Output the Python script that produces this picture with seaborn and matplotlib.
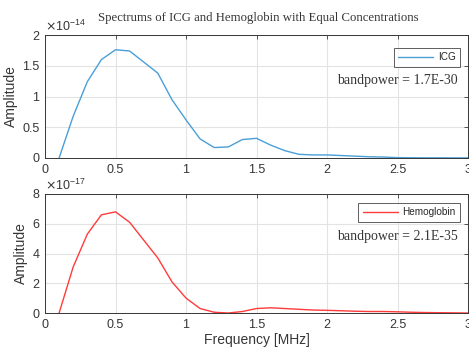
import numpy as np
import pandas as pd
import matplotlib
matplotlib.use("Agg")
import matplotlib.pyplot as plt
import seaborn as sns
from matplotlib.ticker import FuncFormatter, MultipleLocator

freq = [round(0.1 * i, 1) for i in range(1, 31)]
icg_mant = [0.0, 0.68, 1.24, 1.60, 1.76, 1.74, 1.56, 1.38, 0.95, 0.62,
            0.31, 0.17, 0.18, 0.30, 0.32, 0.21, 0.12, 0.06, 0.05, 0.05,
            0.04, 0.03, 0.02, 0.015, 0.006, 0.004, 0.003, 0.003, 0.002, 0.002]
hb_mant = [0.0, 3.1, 5.3, 6.6, 6.8, 6.1, 4.9, 3.7, 2.1, 1.0,
           0.3, 0.05, 0.0, 0.1, 0.3, 0.35, 0.3, 0.25, 0.2, 0.18,
           0.15, 0.12, 0.1, 0.1, 0.08, 0.05, 0.03, 0.02, 0.01, 0.0]
icg_exp = -14
hb_exp = -17
icg_amp = [v * 10.0 ** icg_exp for v in icg_mant]
hb_amp = [v * 10.0 ** hb_exp for v in hb_mant]

title = "Spectrums of ICG and Hemoglobin with Equal Concentrations"
icg_bp = "bandpower = 1.7E-30"
hb_bp = "bandpower = 2.1E-35"

sns.set_style("white")
plt.rcParams['font.family'] = ['Liberation Sans', 'DejaVu Sans']

df_icg = pd.DataFrame({"Frequency": freq, "Amplitude": icg_amp, "Series": "ICG"})
df_hb = pd.DataFrame({"Frequency": freq, "Amplitude": hb_amp, "Series": "Hemoglobin"})

W, H = 469, 351
fig = plt.figure(figsize=(W / 100, H / 100), dpi=100)

def rect(l, t, r, b):
    return [l / W, 1 - b / H, (r - l) / W, (b - t) / H]

ax1 = fig.add_axes(rect(45, 35, 468, 158))
ax2 = fig.add_axes(rect(45, 194, 468, 313))

tick_col = "#363636"
grid_col = "#e3e3e3"

def style(ax, exp, ymax, ystep):
    ax.set_xlim(0, 3)
    ax.set_ylim(0, ymax * 10.0 ** exp)
    ax.xaxis.set_major_locator(MultipleLocator(0.5))
    ax.yaxis.set_major_locator(MultipleLocator(ystep * 10.0 ** exp))
    ax.xaxis.set_major_formatter(FuncFormatter(lambda v, p: f"{v:g}"))
    ax.yaxis.set_major_formatter(FuncFormatter(lambda v, p: f"{round(v / 10.0 ** exp, 6):g}"))
    ax.grid(True, color=grid_col, linewidth=0.8)
    ax.tick_params(direction="in", length=3, width=0.6, colors=tick_col,
                   labelsize=9, top=True, right=True, pad=4)
    for s in ax.spines.values():
        s.set_color(tick_col)
        s.set_linewidth(0.7)
    ax.text(0, 1.01, r"$\times\mathregular{10^{%d}}$" % exp, transform=ax.transAxes,
            fontsize=9, color=tick_col, ha="left", va="bottom")

sns.lineplot(data=df_icg, x="Frequency", y="Amplitude", hue="Series",
             palette={"ICG": "#4a9fd8"}, linewidth=1.0, ax=ax1)
sns.lineplot(data=df_hb, x="Frequency", y="Amplitude", hue="Series",
             palette={"Hemoglobin": "#ff3b3b"}, linewidth=1.0, ax=ax2)

style(ax1, icg_exp, 2, 0.5)
style(ax2, hb_exp, 8, 2)

leg_tops = [0.895, 0.925]
for ax, top in zip((ax1, ax2), leg_tops):
    ax.set_ylabel("Amplitude", fontsize=10, color=tick_col, labelpad=3)
    leg = ax.legend(loc="upper right", bbox_to_anchor=(0.981, top), fontsize=7.2,
                    frameon=True, fancybox=False, edgecolor=tick_col,
                    handlelength=3.5, borderpad=0.45, handletextpad=0.45,
                    borderaxespad=0)
    leg.get_frame().set_linewidth(0.7)
ax1.set_xlabel("")
ax2.set_xlabel("Frequency [MHz]", fontsize=10, color=tick_col, labelpad=2)

ax1.text(0.975, 0.63, icg_bp, transform=ax1.transAxes, ha="right", va="center",
         fontsize=10, family="Liberation Serif", color=tick_col)
ax2.text(0.975, 0.64, hb_bp, transform=ax2.transAxes, ha="right", va="center",
         fontsize=10, family="Liberation Serif", color=tick_col)

fig.text(258 / W, 1 - 18 / H, title, ha="center", va="center", fontsize=9.2,
         family="Liberation Serif", color=tick_col)

fig.savefig("out.png", dpi=100)
